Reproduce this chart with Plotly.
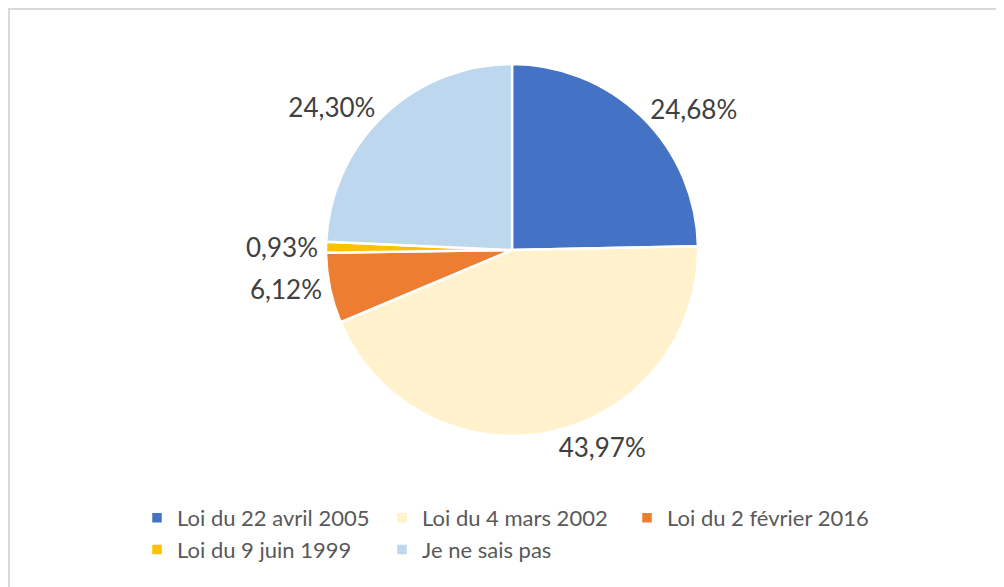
import plotly.graph_objects as go

categories = ["Loi du 22 avril 2005", "Loi du 4 mars 2002", "Loi du 2 février 2016",
              "Loi du 9 juin 1999", "Je ne sais pas"]
values = [24.68, 43.97, 6.12, 0.93, 24.30]
colors = ["#4472C4", "#FFF2CC", "#ED7D31", "#FFC000", "#BDD7EE"]
labels_text = [f"{v:.2f}%".replace(".", ",") for v in values]

W, H = 1004, 587
RM = 100          # right margin (limits legend row width so it wraps after 3 entries)
PW = W - RM       # plot-area width in px
OFF = 8           # page body margin offset
cx, cy, r = 512 - OFF, 250 - OFF, 186

fig = go.Figure(go.Pie(
    labels=categories,
    values=values,
    text=labels_text,
    textinfo="text",
    textposition="outside",
    sort=False,
    direction="clockwise",
    rotation=0,
    marker=dict(colors=colors, line=dict(color="white", width=2.5)),
    outsidetextfont=dict(family="Lato", size=26, color="#404040"),
    domain=dict(x=[(cx - r) / PW, (cx + r) / PW], y=[1 - (cy + r) / H, 1 - (cy - r) / H]),
    hoverinfo="label+percent",
))

fig.add_shape(type="rect", xref="paper", yref="paper",
              x0=1 / PW, x1=1.2, y0=-0.02, y1=1 - 1 / H,
              line=dict(color="#D9D9D9", width=2), fillcolor="rgba(0,0,0,0)", layer="below")

fig.update_layout(
    width=W, height=H,
    margin=dict(l=0, r=RM, t=0, b=0, autoexpand=False),
    paper_bgcolor="white", plot_bgcolor="white",
    font=dict(family="Lato", color="#595959"),
    showlegend=True,
    legend=dict(orientation="h", x=(137 - OFF) / PW, xanchor="left",
                y=1 - (497 - OFF) / H, yanchor="top",
                font=dict(family="Lato", size=22, color="#595959"),
                entrywidth=200, entrywidthmode="pixels",
                traceorder="normal",
                bgcolor="rgba(0,0,0,0)"),
)

fig.write_html("out.html")
